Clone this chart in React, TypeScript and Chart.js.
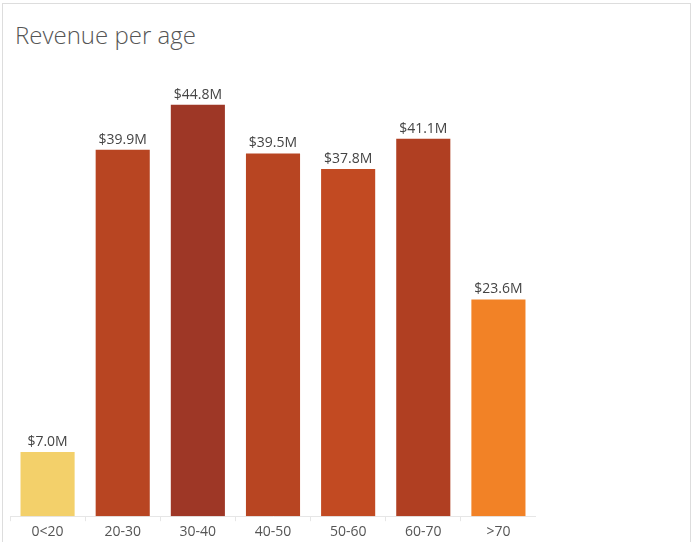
import { useEffect, useRef } from "react";
import { Chart, registerables } from "chart.js";

Chart.register(...registerables);

const ageGroups = ["0<20", "20-30", "30-40", "40-50", "50-60", "60-70", ">70"];
const revenueM = [7.0, 39.9, 44.8, 39.5, 37.8, 41.1, 23.6];
const barColors = ["#f3d06a", "#b84522", "#9e3726", "#b84522", "#c24a22", "#b03f22", "#f28226"];

const valueLabels = {
  id: "valueLabels",
  afterDatasetsDraw(chart: Chart) {
    const ctx = chart.ctx;
    const meta = chart.getDatasetMeta(0);
    ctx.save();
    ctx.font = "14px 'Open Sans', sans-serif";
    ctx.fillStyle = "#444";
    ctx.textAlign = "center";
    ctx.textBaseline = "bottom";
    meta.data.forEach((bar: any, i) => {
      ctx.fillText("$" + revenueM[i].toFixed(1) + "M", bar.x, bar.y - 3);
    });
    ctx.restore();
  }
};

export default function App() {
  const canvasRef = useRef<HTMLCanvasElement | null>(null);

  useEffect(() => {
    document.body.style.margin = "0";
    if (!canvasRef.current) return;
    const chart = new Chart(canvasRef.current, {
      type: "bar",
      data: {
        labels: ageGroups,
        datasets: [{ data: revenueM, backgroundColor: barColors, borderWidth: 0 }]
      },
      options: {
        animation: false,
        responsive: false,
        layout: { padding: 0 },
        plugins: { legend: { display: false }, tooltip: { enabled: false } },
        scales: {
          x: {
            categoryPercentage: 1,
            barPercentage: 0.75,
            grid: { display: true, drawOnChartArea: false, color: "#e6e6e6", tickLength: 5, offset: true },
            border: { color: "#e6e6e6" },
            ticks: { color: "#555", font: { size: 14, family: "'Open Sans', sans-serif" }, padding: 2 }
          },
          y: { display: false, min: 0, max: 50 }
        }
      },
      plugins: [valueLabels]
    });
    return () => chart.destroy();
  }, []);

  return (
    <div style={{ position: "relative", width: 692, height: 542, background: "#fff", overflow: "hidden" }}>
      <div style={{ position: "absolute", left: 2, top: 3, width: 687, height: 560, borderLeft: "1px solid #ddd", borderTop: "1px solid #ddd", borderRight: "1px solid #ddd" }} />
      <div style={{ position: "absolute", left: 15, top: 18, fontFamily: "'Open Sans', sans-serif", fontWeight: 300, fontSize: 24, color: "#555" }}>
        Revenue per age
      </div>
      <canvas ref={canvasRef} width={526} height={485} style={{ position: "absolute", left: 10, top: 57 }} />
    </div>
  );
}
